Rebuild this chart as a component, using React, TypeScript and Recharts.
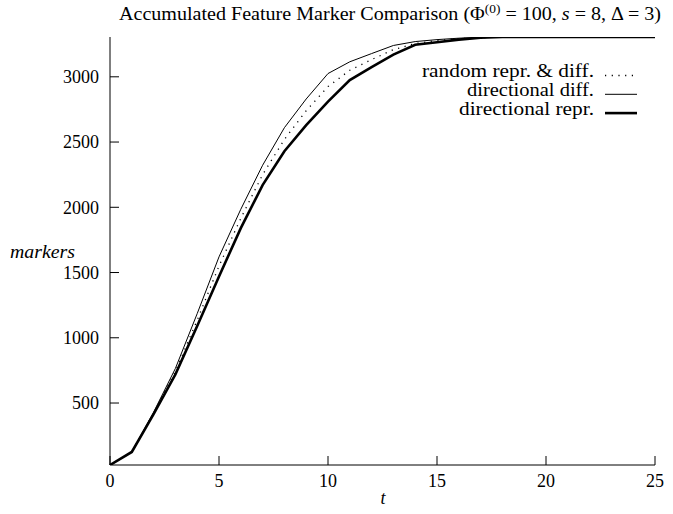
import React from "react";
import { Line, LineChart, XAxis, YAxis } from "recharts";

// time steps t
const steps = [0, 1, 2, 3, 4, 5, 6, 7, 8, 9, 10, 11, 12, 13, 14, 15, 16, 17, 18, 19, 20, 21, 22, 23, 24, 25];

// accumulated markers per strategy
const randomReprDiff = [25, 125, 422, 742, 1135, 1550, 1915, 2250, 2520, 2740, 2925, 3050, 3132, 3208, 3255, 3278, 3292, 3300, 3305, 3305, 3305, 3305, 3305, 3305, 3305, 3305];
const directionalDiff = [25, 125, 430, 765, 1185, 1620, 1985, 2322, 2610, 2830, 3025, 3115, 3178, 3240, 3270, 3285, 3296, 3303, 3305, 3305, 3305, 3305, 3305, 3305, 3305, 3305];
const directionalRepr = [25, 125, 415, 720, 1090, 1470, 1840, 2170, 2430, 2630, 2810, 2975, 3075, 3170, 3245, 3265, 3285, 3300, 3305, 3305, 3305, 3305, 3305, 3305, 3305, 3305];

const xTicks = [0, 5, 10, 15, 20, 25];
const yTicks = [500, 1000, 1500, 2000, 2500, 3000];
const Y_DOMAIN: [number, number] = [25, 3305];

const data = steps.map((t, i) => ({
  t,
  random: randomReprDiff[i],
  dirDiff: directionalDiff[i],
  dirRepr: directionalRepr[i],
}));

const FONT = "'Liberation Serif', 'DejaVu Serif', serif";
const TICK_LEN = 9;

const BottomTick = ({ x, y, payload }: any) => (
  <g>
    <line x1={x} y1={y} x2={x} y2={y - TICK_LEN} stroke="#000" />
    <text x={x} y={y + 22} textAnchor="middle" fontFamily={FONT} fontSize={18} fill="#000">
      {payload.value}
    </text>
  </g>
);

const TopTick = ({ x, y }: any) => <line x1={x} y1={y} x2={x} y2={y + TICK_LEN} stroke="#000" />;

const LeftTick = ({ x, y, payload }: any) => (
  <g>
    <line x1={x} y1={y} x2={x + TICK_LEN} y2={y} stroke="#000" />
    <text x={x - 11} y={y} dy="0.35em" textAnchor="end" fontFamily={FONT} fontSize={18} fill="#000">
      {payload.value}
    </text>
  </g>
);

const RightTick = ({ x, y }: any) => <line x1={x} y1={y} x2={x - TICK_LEN} y2={y} stroke="#000" />;

const legendItems = [
  { label: "random repr. & diff.", width: 1.3, dash: "1.2 5.5", len: 172 },
  { label: "directional diff.", width: 1, dash: undefined, len: 127 },
  { label: "directional repr.", width: 2.6, dash: undefined, len: 135 },
];

export default function App() {
  return (
    <div style={{ position: "absolute", left: 0, top: 0, width: 673, height: 514, background: "#fff" }}>
      <LineChart width={673} height={514} data={data} margin={{ top: 37, right: 18, bottom: 0, left: 0 }}>
        <XAxis
          dataKey="t"
          type="number"
          domain={[0, 25]}
          ticks={xTicks}
          height={49}
          stroke="#000"
          tickLine={false}
          tickSize={0}
          tickMargin={0}
          tick={<BottomTick />}
          interval={0}
        />
        <XAxis
          xAxisId="top"
          orientation="top"
          dataKey="t"
          type="number"
          domain={[0, 25]}
          ticks={xTicks}
          height={0}
          stroke="#000"
          tickLine={false}
          tickSize={0}
          tickMargin={0}
          tick={<TopTick />}
          interval={0}
        />
        <YAxis
          type="number"
          domain={Y_DOMAIN}
          allowDataOverflow
          ticks={yTicks}
          width={110}
          stroke="#000"
          tickLine={false}
          tickSize={0}
          tickMargin={0}
          tick={<LeftTick />}
          interval={0}
        />
        <YAxis
          yAxisId="right"
          orientation="right"
          type="number"
          domain={Y_DOMAIN}
          allowDataOverflow
          ticks={yTicks}
          width={0}
          stroke="#000"
          tickLine={false}
          tickSize={0}
          tickMargin={0}
          tick={<RightTick />}
          interval={0}
        />
        <Line
          dataKey="random"
          stroke="#000"
          strokeWidth={1.3}
          strokeDasharray="1.2 5.5"
          dot={false}
          type="linear"
          isAnimationActive={false}
        />
        <Line dataKey="dirDiff" stroke="#000" strokeWidth={1} dot={false} type="linear" isAnimationActive={false} />
        <Line dataKey="dirRepr" stroke="#000" strokeWidth={2.6} dot={false} type="linear" isAnimationActive={false} />
      </LineChart>
      <svg
        width={673}
        height={514}
        style={{ position: "absolute", left: 0, top: 0, pointerEvents: "none" }}
        fontFamily={FONT}
      >
        <text x={119} y={20} fontSize={18} fill="#000" textLength={542} lengthAdjust="spacingAndGlyphs">
          Accumulated Feature Marker Comparison (Φ
          <tspan dy={-7} fontSize={12}>(0)</tspan>
          <tspan dy={7}> = 100, </tspan>
          <tspan fontStyle="italic">s</tspan>
          <tspan> = 8, Δ = 3)</tspan>
        </text>
        <text x={10} y={258} fontSize={18} fontStyle="italic" fill="#000" textLength={65} lengthAdjust="spacingAndGlyphs">
          markers
        </text>
        <text x={383} y={504} fontSize={18} fontStyle="italic" textAnchor="middle" fill="#000">
          t
        </text>
        {legendItems.map((item, i) => (
          <g key={item.label}>
            <text
              x={594 - item.len}
              y={76.5 + i * 19.2}
              fontSize={18}
              fill="#000"
              textLength={item.len}
              lengthAdjust="spacingAndGlyphs"
            >
              {item.label}
            </text>
            <line
              x1={605}
              x2={637}
              y1={75.5 + i * 18.8}
              y2={75.5 + i * 18.8}
              stroke="#000"
              strokeWidth={item.width}
              strokeDasharray={item.dash}
            />
          </g>
        ))}
      </svg>
    </div>
  );
}
